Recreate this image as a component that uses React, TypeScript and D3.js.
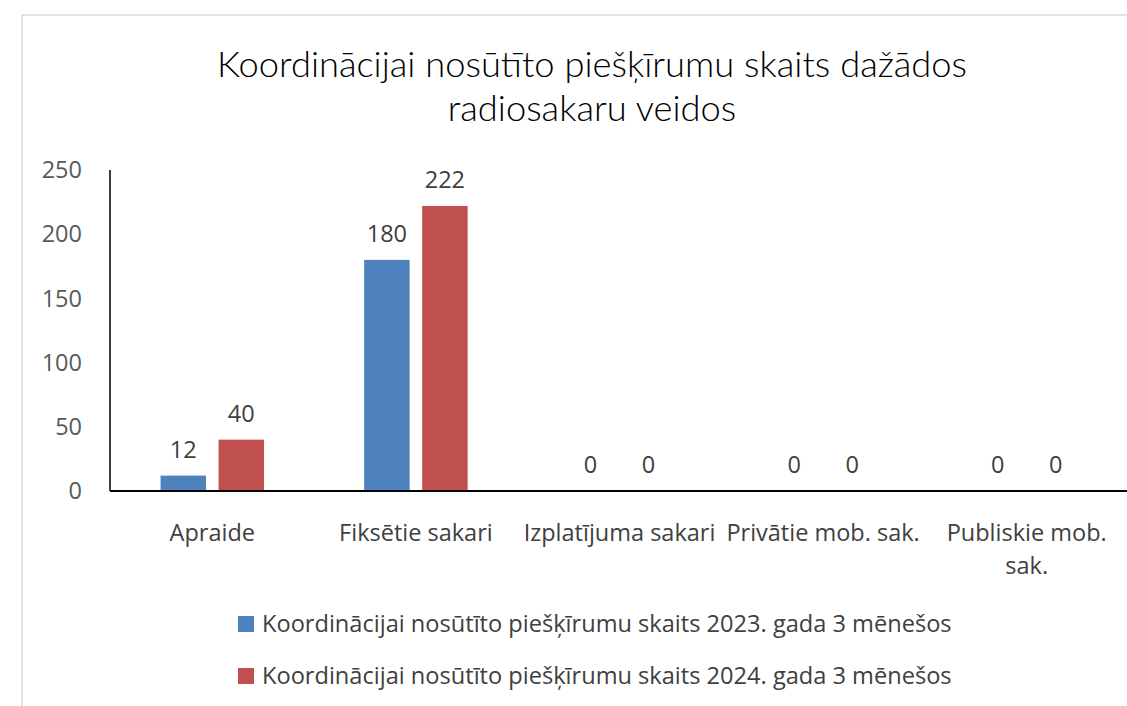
import React from "react";
import * as d3 from "d3";

// data
const categories = [
  "Apraide",
  "Fiksētie sakari",
  "Izplatījuma sakari",
  "Privātie mob. sak.",
  "Publiskie mob. sak.",
];
const categoryLabels = [
  ["Apraide"],
  ["Fiksētie sakari"],
  ["Izplatījuma sakari"],
  ["Privātie mob. sak."],
  ["Publiskie mob.", "sak."],
];
const seriesNames = [
  "Koordinācijai nosūtīto piešķīrumu skaits 2023. gada 3 mēnešos",
  "Koordinācijai nosūtīto piešķīrumu skaits 2024. gada 3 mēnešos",
];
const values2023 = [12, 180, 0, 0, 0];
const values2024 = [40, 222, 0, 0, 0];
const yTicks = [0, 50, 100, 150, 200, 250];
const colors = ["#4F81BD", "#C0504D"];
const titleLines = [
  "Koordinācijai nosūtīto piešķīrumu skaits dažādos",
  "radiosakaru veidos",
];

const W = 1127,
  H = 706;
const FONT = "'Open Sans', 'Noto Sans', sans-serif";

const App = () => {
  const x0 = d3
    .scaleBand<string>()
    .domain(categories)
    .range([110.5, 110.5 + 5 * 203.6])
    .padding(0);
  const groupW = 103.5;
  const x1 = d3
    .scaleBand<number>()
    .domain([0, 1])
    .range([0, groupW])
    .paddingInner(0.2155)
    .paddingOuter(0);
  const y = d3.scaleLinear().domain([0, 250]).range([491, 170]);

  const series = [values2023, values2024];
  const plotLeft = 110;
  const plotRight = 1127;

  return (
    <svg
      width={W}
      height={H}
      style={{ position: "absolute", left: 0, top: 0, background: "#fff" }}
      fontFamily={FONT}
    >
      {/* chart area border (cropped off on right and bottom) */}
      <rect x={22} y={15} width={1200} height={800} fill="#fff" stroke="#d9d9d9" strokeWidth={1.5} />

      {/* title */}
      {titleLines.map((t, i) => (
        <text
          key={i}
          x={592}
          y={77 + i * 44}
          textAnchor="middle"
          fontSize={36.3}
          fontFamily="Lato, 'Open Sans', sans-serif"
          fontWeight={300}
          fill="#000"
        >
          {t}
        </text>
      ))}

      {/* y tick labels */}
      {yTicks.map((t) => (
        <text
          key={t}
          x={82}
          y={y(t)}
          dy="0.35em"
          textAnchor="end"
          fontSize={23.5}
          fill="#595959"
        >
          {t}
        </text>
      ))}

      {/* bars */}
      {series.map((vals, s) =>
        vals.map((v, i) => {
          const cx = x0(categories[i])! + x0.bandwidth() / 2 - groupW / 2;
          return (
            <rect
              key={`b${s}-${i}`}
              x={cx + x1(s)!}
              y={y(v)}
              width={x1.bandwidth()}
              height={y(0) - y(v)}
              fill={colors[s]}
            />
          );
        })
      )}

      {/* value labels */}
      {series.map((vals, s) =>
        vals.map((v, i) => {
          const cx = x0(categories[i])! + x0.bandwidth() / 2 - groupW / 2;
          return (
            <text
              key={`l${s}-${i}`}
              x={cx + x1(s)! + x1.bandwidth() / 2}
              y={y(v) - 18}
              textAnchor="middle"
              fontSize={23.5}
              fill="#404040"
            >
              {v}
            </text>
          );
        })
      )}

      {/* axes */}
      <line x1={plotLeft} x2={plotLeft} y1={y(250)} y2={y(0)} stroke="#000" strokeWidth={1.5} />
      <line x1={plotLeft} x2={plotRight} y1={y(0)} y2={y(0)} stroke="#000" strokeWidth={2} />

      {/* category labels */}
      {categoryLabels.map((lines, i) => (
        <text
          key={`c${i}`}
          x={x0(categories[i])! + x0.bandwidth() / 2}
          y={541}
          textAnchor="middle"
          fontSize={23.5}
          fill="#404040"
        >
          {lines.map((ln, j) => (
            <tspan key={j} x={x0(categories[i])! + x0.bandwidth() / 2} dy={j === 0 ? 0 : 33}>
              {ln}
            </tspan>
          ))}
        </text>
      ))}

      {/* legend */}
      {seriesNames.map((name, s) => (
        <g key={`lg${s}`} transform={`translate(238,${616 + s * 52})`}>
          <rect width={16} height={16} fill={colors[s]} />
          <text x={24} y={8} dy="0.35em" fontSize={23.6} fill="#404040">
            {name}
          </text>
        </g>
      ))}
    </svg>
  );
};

export default App;
